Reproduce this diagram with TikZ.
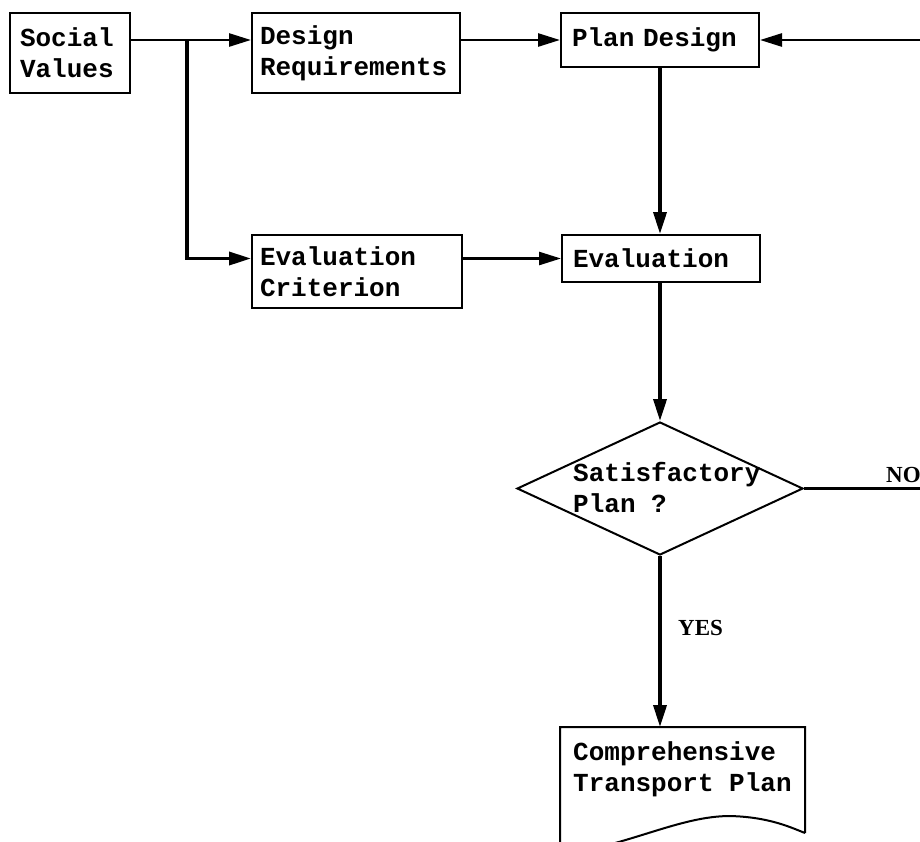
\documentclass[tikz,border=0pt]{standalone}
\usepackage{fontspec}
\setmainfont{Liberation Serif}
\newfontfamily\twfont{Liberation Mono}
\usetikzlibrary{arrows.meta,shapes.geometric,calc}
\begin{document}
\begin{tikzpicture}[x=1pt,y=-1pt,
  box/.style={draw, line width=2pt, inner ysep=0pt, align=left,
    font=\twfont\bfseries\fontsize{26}{31}\selectfont},
  txt/.style={inner sep=0pt, align=left, font=\twfont\bfseries\fontsize{26}{31}\selectfont},
  conn/.style={line width=2.6pt},
  vconn/.style={line width=3.6pt},
  arr/.style={-{Triangle[length=22pt,width=13pt]}},
  lbl/.style={inner sep=0pt, font=\bfseries\fontsize{23}{27}\selectfont}
]
\useasboundingbox (0,0) rectangle (920,841);
\clip (0,0) rectangle (920,841);

% boxes
\node[box, minimum height=80pt, text width=100pt, inner xsep=10pt] (sv) at (70,53) {Social\\Values};
\node[box, minimum height=80pt, text width=192pt, inner xsep=8pt] (dr) at (356,53) {Design\\Requirements};
\node[box, minimum height=54pt, text width=176pt, inner xsep=11pt] (pd) at (660,40) {Plan Design};
\node[box, minimum height=47pt, text width=176pt, inner xsep=11pt] (ev) at (661,258.5) {Evaluation};
\node[box, minimum height=73pt, text width=194pt, inner xsep=8pt] (ec) at (357,271.5) {Evaluation\\Criterion};

% decision
\node[draw, diamond, line width=2pt, minimum width=286pt, minimum height=133pt, inner sep=0pt] (dec) at (660,488.5) {};
\node[txt, anchor=west] (dect) at (573,487.5) {Satisfactory\\Plan ?};

% document
\node[anchor=north west, minimum width=245pt, minimum height=110pt, inner sep=0pt] (doc) at (560,727) {};
\draw[line width=2pt] (805,833) -- (805,727) -- (560,727) -- (560,855)
  .. controls (630,845) and (680,816) .. (730,816)
  .. controls (770,817) and (792,828) .. (805,833);
\node[txt, anchor=west] (doct) at (573,769.5) {Comprehensive\\Transport Plan};

% coordinates
\coordinate (j) at (187,40);
\coordinate (fb) at (922,40);
\coordinate (noend) at (922,488.5);

% connectors
\draw[conn] (sv.east |- j) -- (j);
\draw[conn,arr] (j) -- (dr.west |- j);
\draw[vconn,arr] (j) |- (ec.west |- ev.west);
\draw[conn,arr] (dr.east |- pd.west) -- (pd.west);
\draw[conn,arr] (ev.west -| ec.east) -- (ev.west);
\draw[conn,arr] (fb) -- (pd.east);
\draw[vconn,arr] (pd.south -| dec.north) -- (dec.north |- ev.north);
\draw[vconn,arr] (ev.south -| dec.north) -- (dec.north);
\draw[conn] (dec.east) -- (noend);
\draw[vconn,arr] (dec.south) -- (dec.south |- doc.north);

% labels
\node[lbl, anchor=base west] (no) at (886,482) {NO};
\node[lbl, anchor=base west] (yes) at (678,635) {YES};
\end{tikzpicture}
\end{document}
